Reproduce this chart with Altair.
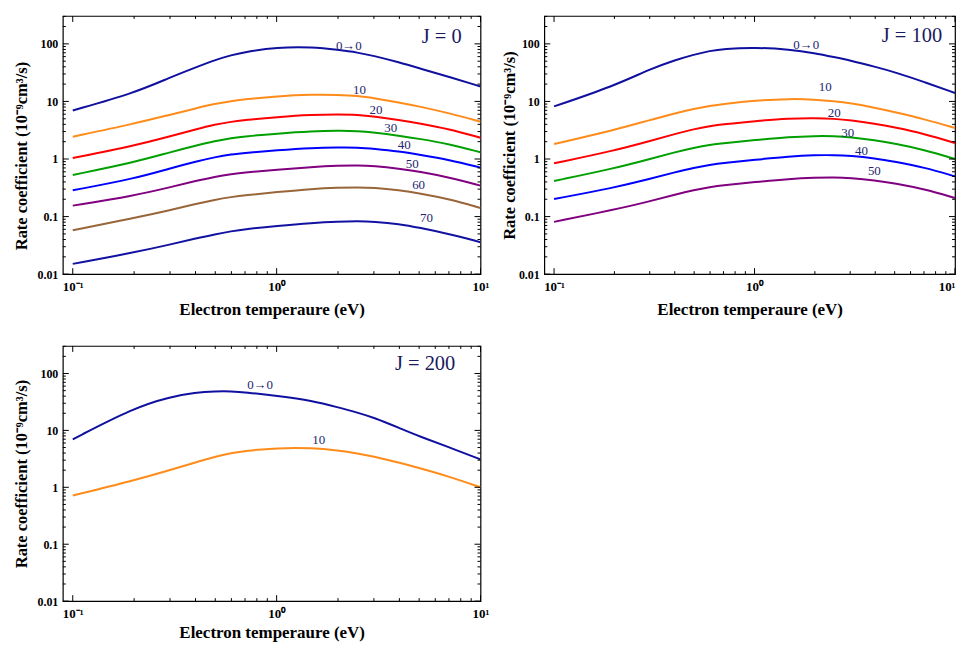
import altair as alt
import pandas as pd

# ---------------- data ----------------
T = [0.1, 0.2, 0.3, 0.4, 0.5, 0.6, 0.7, 1.0, 1.5, 2, 2.5, 3, 4, 5, 7, 10]

NAMES = ["0→0", "10", "20", "30", "40", "50", "60", "70"]
COLORS = ["#1010a0", "#ff8c1a", "#ff0000", "#00a000", "#0000ff", "#800080", "#99663a", "#1212a2"]

# J = 0
J0_00 = [6.98, 14.0, 26.1, 38.9, 52.7, 63.6, 72.6, 87.0, 88.0, 78.7, 70.8, 61.9, 47.5, 37.8, 26.8, 18.2]
J0_10 = [2.44, 4.10, 5.88, 7.56, 9.12, 10.1, 10.9, 12.3, 13.2, 13.0, 12.5, 11.4, 9.6, 8.2, 6.28, 4.44]
J0_20 = [1.04, 1.70, 2.47, 3.27, 3.99, 4.44, 4.78, 5.35, 5.88, 5.96, 5.88, 5.50, 4.74, 4.15, 3.31, 2.34]
J0_30 = [0.528, 0.875, 1.31, 1.70, 2.05, 2.31, 2.48, 2.76, 3.03, 3.10, 3.07, 2.90, 2.54, 2.25, 1.82, 1.31]
J0_40 = [0.286, 0.456, 0.689, 0.90, 1.08, 1.21, 1.28, 1.42, 1.56, 1.59, 1.59, 1.51, 1.36, 1.19, 0.973, 0.708]
J0_50 = [0.155, 0.231, 0.323, 0.415, 0.494, 0.549, 0.585, 0.650, 0.728, 0.766, 0.776, 0.757, 0.68, 0.603, 0.481, 0.345]
J0_60 = [0.058, 0.0949, 0.129, 0.166, 0.197, 0.219, 0.235, 0.266, 0.303, 0.318, 0.323, 0.318, 0.286, 0.254, 0.202, 0.141]
J0_70 = [0.0151, 0.0238, 0.0327, 0.0415, 0.0494, 0.0557, 0.0603, 0.0688, 0.0778, 0.0818, 0.083, 0.0818, 0.0746, 0.0644, 0.050, 0.0359]

# J = 100
J100_00 = [8.19, 18.7, 36.4, 52.1, 65.3, 75.6, 81.9, 87.0, 79.8, 68.9, 58.7, 51.4, 39.9, 32.3, 21.9, 14.0]
J100_10 = [1.82, 3.18, 4.74, 6.19, 7.46, 8.41, 9.05, 10.35, 11.15, 10.8, 10.1, 9.35, 7.76, 6.53, 4.94, 3.45]
J100_20 = [0.841, 1.40, 2.05, 2.72, 3.31, 3.73, 4.02, 4.55, 5.08, 5.14, 5.00, 4.74, 4.10, 3.54, 2.75, 1.90]
J100_30 = [0.415, 0.689, 1.0, 1.31, 1.57, 1.77, 1.88, 2.13, 2.42, 2.51, 2.50, 2.41, 2.11, 1.85, 1.45, 1.0]
J100_40 = [0.202, 0.318, 0.45, 0.587, 0.708, 0.795, 0.857, 0.97, 1.11, 1.17, 1.17, 1.14, 1.03, 0.90, 0.717, 0.50]
J100_50 = [0.081, 0.132, 0.184, 0.241, 0.290, 0.325, 0.349, 0.397, 0.452, 0.474, 0.48, 0.469, 0.427, 0.379, 0.302, 0.21]

# J = 200
J200_00 = [6.98, 25.1, 38.9, 46.2, 48.7, 48.7, 46.9, 40.4, 33.1, 25.4, 20.5, 16.8, 11.0, 7.87, 5.07, 3.10]
J200_10 = [0.717, 1.32, 2.0, 2.75, 3.45, 3.99, 4.38, 4.92, 4.94, 4.44, 3.94, 3.49, 2.71, 2.19, 1.55, 1.0]

# curve labels (text, x, y)
LAB0_TXT = ["0→0", "10", "20", "30", "40", "50", "60", "70"]
LAB0_X = [2.26, 2.55, 3.07, 3.63, 4.23, 4.62, 4.97, 5.43]
LAB0_Y = [92, 15.9, 7.17, 3.45, 1.75, 0.819, 0.349, 0.096]

LAB100_TXT = ["0→0", "10", "20", "30", "40", "50"]
LAB100_X = [1.81, 2.25, 2.50, 2.92, 3.42, 3.96]
LAB100_Y = [97.3, 17.7, 6.35, 2.79, 1.40, 0.611]

LAB200_TXT = ["0→0", "10"]
LAB200_X = [0.83, 1.61]
LAB200_Y = [61.9, 6.80]

PANEL_TXT = ["J = 0", "J = 100", "J = 200"]
PANEL_X = [6.45, 6.1, 5.35]
PANEL_Y = [134, 138, 149]

X_MAJOR = [0.1, 1, 10]
X_MINOR = [0.2, 0.3, 0.4, 0.5, 0.6, 0.7, 0.8, 0.9, 2, 3, 4, 5, 6, 7, 8, 9]
Y_MAJOR = [0.01, 0.1, 1, 10, 100]
Y_MINOR = [0.02, 0.03, 0.04, 0.05, 0.06, 0.07, 0.08, 0.09,
           0.2, 0.3, 0.4, 0.5, 0.6, 0.7, 0.8, 0.9,
           2, 3, 4, 5, 6, 7, 8, 9,
           20, 30, 40, 50, 60, 70, 80, 90, 200, 300]

# ---------------- chart ----------------
FONT = "Liberation Serif"
XS = alt.Scale(type="log", domain=[0.0894, 10], nice=False)
YS = alt.Scale(type="log", domain=[0.01, 305], nice=False)
CS = alt.Scale(domain=NAMES, range=COLORS)
XLAB = "datum.value < 0.5 ? '10⁻¹' : (datum.value < 5 ? '10⁰' : '10¹')"


def make_axes(ytp, xlp, xtp, flush, title_y=None):
    xa = alt.Axis(values=X_MAJOR, ticks=False, grid=False, domain=False, labelExpr=XLAB,
                  labelPadding=xlp, labelFlush=flush, labelOverlap=False, labelFontSize=13,
                  title="Electron temperaure (eV)", titlePadding=xtp, titleFontSize=17)
    ykw = dict(values=Y_MAJOR, ticks=False, grid=False, domain=False, format="~g",
               labelPadding=5, labelOverlap=False, labelFlush=False, labelFontSize=12,
               title="Rate coefficient (10⁻⁹cm³/s)", titlePadding=ytp, titleFontSize=16.5)
    if title_y is not None:
        ykw["titleY"] = title_y
    ya = alt.Axis(**ykw)
    return xa, ya


def panel(series, labtxt, labx, laby, ptxt, px, py, W, H, axes):
    xa, ya = axes
    XE = lambda: alt.X("x:Q", scale=XS, axis=xa)
    YE = lambda: alt.Y("y:Q", scale=YS, axis=ya)
    rows = []
    for name, vals in zip(NAMES, series):
        for x, v in zip(T, vals):
            rows.append({"x": x, "y": v, "s": name})
    df = pd.DataFrame(rows)
    lines = alt.Chart(df).mark_line(strokeWidth=2, interpolate="basis", clip=True).encode(
        x=XE(), y=YE(),
        color=alt.Color("s:N", scale=CS, legend=None),
        detail="s:N",
    )
    ldf = pd.DataFrame({"x": labx, "y": laby, "t": labtxt})
    labels = alt.Chart(ldf).mark_text(font=FONT, fontSize=13, color="#25256e",
                                      align="center", baseline="middle").encode(
        x=XE(), y=YE(), text="t:N",
    )
    pdf = pd.DataFrame({"x": [px], "y": [py], "t": [ptxt]})
    ptitle = alt.Chart(pdf).mark_text(font=FONT, fontSize=20.5, color="#1a1a5e",
                                      align="center", baseline="middle").encode(
        x=XE(), y=YE(), text="t:N",
    )
    ticks = []
    for vals, ln in ((X_MAJOR, 6), (X_MINOR, 3)):
        b = alt.Chart(pd.DataFrame({"x": vals})).mark_rule(color="black", strokeWidth=1)
        ticks.append(b.encode(x=XE(), y=alt.value(H), y2=alt.value(H - ln)))
        ticks.append(b.encode(x=XE(), y=alt.value(0), y2=alt.value(ln)))
    for vals, ln in ((Y_MAJOR, 6), (Y_MINOR, 3)):
        b = alt.Chart(pd.DataFrame({"y": vals})).mark_rule(color="black", strokeWidth=1)
        ticks.append(b.encode(y=YE(), x=alt.value(0), x2=alt.value(ln)))
        ticks.append(b.encode(y=YE(), x=alt.value(W), x2=alt.value(W - ln)))
    return alt.layer(lines, labels, ptitle, *ticks).properties(width=W, height=H)


p1 = panel([J0_00, J0_10, J0_20, J0_30, J0_40, J0_50, J0_60, J0_70],
           LAB0_TXT, LAB0_X, LAB0_Y, PANEL_TXT[0], PANEL_X[0], PANEL_Y[0],
           419, 259, make_axes(7, 6, 8, False, title_y=140))
p2 = panel([J100_00, J100_10, J100_20, J100_30, J100_40, J100_50],
           LAB100_TXT, LAB100_X, LAB100_Y, PANEL_TXT[1], PANEL_X[1], PANEL_Y[1],
           412, 259, make_axes(1, 6, 8, True))
p3 = panel([J200_00, J200_10],
           LAB200_TXT, LAB200_X, LAB200_Y, PANEL_TXT[2], PANEL_X[2], PANEL_Y[2],
           419, 256, make_axes(7, 6, 4, False))

chart = alt.vconcat(
    alt.hconcat(p1, p2, spacing=10),
    p3,
    spacing=26,
).properties(
    padding={"left": 5, "top": 5, "right": 0, "bottom": 0}
).configure_view(stroke="black", strokeWidth=1.2).configure_axis(
    labelFont=FONT, titleFont=FONT, labelFontWeight="bold", titleFontWeight="bold",
    labelColor="black", titleColor="black",
)

chart.save("out.html", embed_options={"renderer": "svg", "actions": False})
